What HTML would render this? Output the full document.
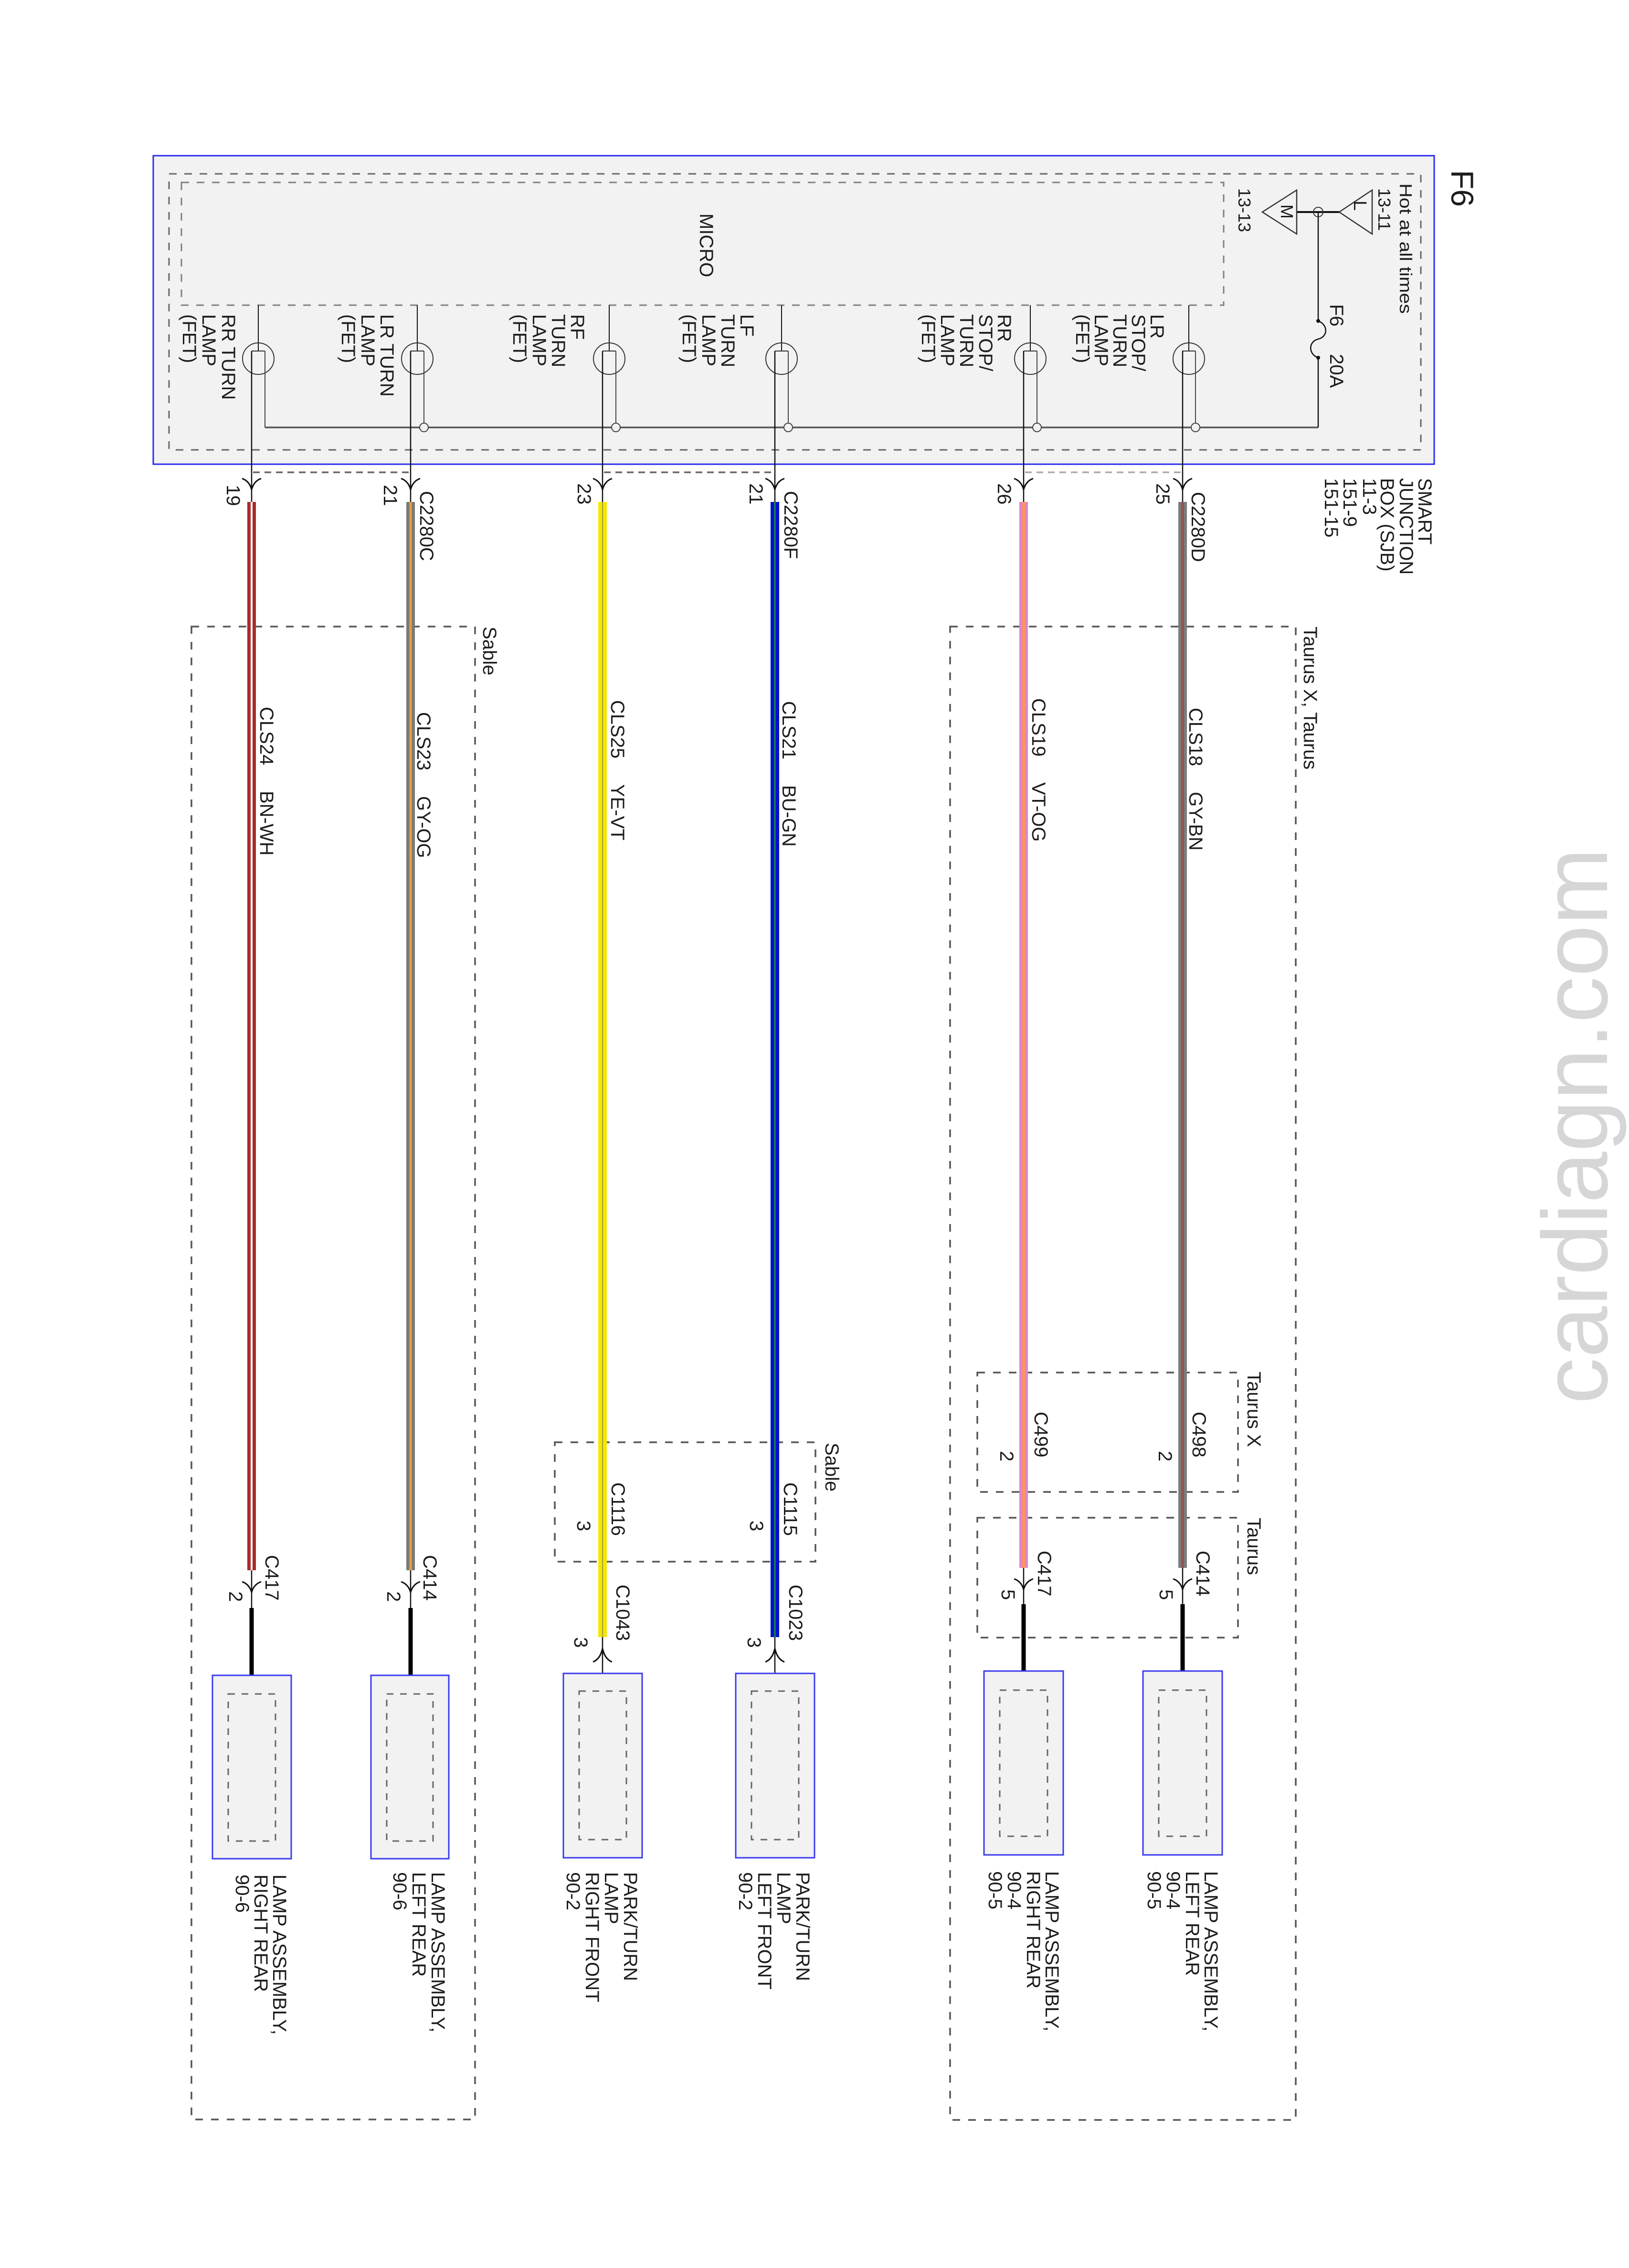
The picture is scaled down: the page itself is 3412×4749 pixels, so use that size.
<!DOCTYPE html>
<html>
<head>
<meta charset="utf-8">
<style>
html,body{margin:0;padding:0;background:#fff;}
svg{display:block;}
text{font-family:"Liberation Sans",Arial,sans-serif;font-size:40px;fill:#1c1c1c;}
.s36{font-size:36px;}
</style>
</head>
<body>
<svg width="3412" height="4749" viewBox="0 0 3412 4749" xmlns="http://www.w3.org/2000/svg">
<rect x="0" y="0" width="3412" height="4749" fill="#fff"/>

<!-- watermark -->
<text x="3366" y="2940" transform="rotate(-90 3366 2940)" style="font-size:194px;fill:#d6d6d6">cardiagn.com</text>

<!-- SJB box -->
<rect x="321" y="326" width="2683" height="646" fill="#f2f2f2" stroke="#2a2aee" stroke-width="3"/>
<rect x="354" y="364" width="2622" height="578" fill="none" stroke="#666" stroke-width="3" stroke-dasharray="16 16"/>
<rect x="380" y="382" width="2183" height="257" fill="none" stroke="#808080" stroke-width="3" stroke-dasharray="16 16"/>

<!-- bus -->
<line x1="555" y1="895" x2="2761" y2="895" stroke="#555" stroke-width="3.5"/>
<!-- fuse feed -->
<line x1="2761" y1="444" x2="2761" y2="672" stroke="#111" stroke-width="2.5"/>
<path d="M2761 672 C2782 680 2782 705 2761 710 C2740 715 2740 742 2761 749" fill="none" stroke="#111" stroke-width="2.5"/>
<line x1="2761" y1="749" x2="2761" y2="895" stroke="#111" stroke-width="2.5"/>
<circle cx="2761" cy="672" r="4" fill="#111"/>
<circle cx="2761" cy="749" r="4" fill="#111"/>
<line x1="2716" y1="444" x2="2805" y2="444" stroke="#111" stroke-width="4"/>
<circle cx="2761" cy="444" r="10" fill="none" stroke="#333" stroke-width="2"/>
<polygon points="2805,444 2874,398 2874,490" fill="none" stroke="#333" stroke-width="2.5"/>
<polygon points="2644,444 2716,398 2716,490" fill="none" stroke="#333" stroke-width="2.5"/>

<!-- FETs -->
<g stroke-linecap="butt">
<line x1="541" y1="639" x2="541" y2="735" stroke="#111" stroke-width="2"/>
<line x1="527" y1="735" x2="555" y2="735" stroke="#333" stroke-width="2"/>
<circle cx="541" cy="751" r="33" fill="none" stroke="#333" stroke-width="2"/>
<line x1="527" y1="735" x2="527" y2="1051" stroke="#111" stroke-width="2.5"/>
<line x1="555" y1="735" x2="555" y2="895" stroke="#444" stroke-width="2"/>

<line x1="874" y1="639" x2="874" y2="735" stroke="#111" stroke-width="2"/>
<line x1="860" y1="735" x2="888" y2="735" stroke="#333" stroke-width="2"/>
<circle cx="874" cy="751" r="33" fill="none" stroke="#333" stroke-width="2"/>
<line x1="860" y1="735" x2="860" y2="1051" stroke="#111" stroke-width="2.5"/>
<line x1="888" y1="735" x2="888" y2="895" stroke="#444" stroke-width="2"/>
<circle cx="888" cy="895" r="9" fill="#f2f2f2" stroke="#444" stroke-width="2"/>

<line x1="1276" y1="639" x2="1276" y2="735" stroke="#111" stroke-width="2"/>
<line x1="1262" y1="735" x2="1290" y2="735" stroke="#333" stroke-width="2"/>
<circle cx="1276" cy="751" r="33" fill="none" stroke="#333" stroke-width="2"/>
<line x1="1262" y1="735" x2="1262" y2="1051" stroke="#111" stroke-width="2.5"/>
<line x1="1290" y1="735" x2="1290" y2="895" stroke="#444" stroke-width="2"/>
<circle cx="1290" cy="895" r="9" fill="#f2f2f2" stroke="#444" stroke-width="2"/>

<line x1="1637" y1="639" x2="1637" y2="735" stroke="#111" stroke-width="2"/>
<line x1="1623" y1="735" x2="1651" y2="735" stroke="#333" stroke-width="2"/>
<circle cx="1637" cy="751" r="33" fill="none" stroke="#333" stroke-width="2"/>
<line x1="1623" y1="735" x2="1623" y2="1051" stroke="#111" stroke-width="2.5"/>
<line x1="1651" y1="735" x2="1651" y2="895" stroke="#444" stroke-width="2"/>
<circle cx="1651" cy="895" r="9" fill="#f2f2f2" stroke="#444" stroke-width="2"/>

<line x1="2158" y1="639" x2="2158" y2="735" stroke="#111" stroke-width="2"/>
<line x1="2144" y1="735" x2="2172" y2="735" stroke="#333" stroke-width="2"/>
<circle cx="2158" cy="751" r="33" fill="none" stroke="#333" stroke-width="2"/>
<line x1="2144" y1="735" x2="2144" y2="1051" stroke="#111" stroke-width="2.5"/>
<line x1="2172" y1="735" x2="2172" y2="895" stroke="#444" stroke-width="2"/>
<circle cx="2172" cy="895" r="9" fill="#f2f2f2" stroke="#444" stroke-width="2"/>

<line x1="2490" y1="639" x2="2490" y2="735" stroke="#111" stroke-width="2"/>
<line x1="2476" y1="735" x2="2504" y2="735" stroke="#333" stroke-width="2"/>
<circle cx="2490" cy="751" r="33" fill="none" stroke="#333" stroke-width="2"/>
<line x1="2477" y1="735" x2="2477" y2="1051" stroke="#111" stroke-width="2.5"/>
<line x1="2504" y1="735" x2="2504" y2="895" stroke="#444" stroke-width="2"/>
<circle cx="2504" cy="895" r="9" fill="#f2f2f2" stroke="#444" stroke-width="2"/>
</g>

<!-- connector dashed links -->
<line x1="530" y1="989" x2="857" y2="989" stroke="#666" stroke-width="3.5" stroke-dasharray="14 10"/>
<line x1="1265" y1="989" x2="1620" y2="989" stroke="#666" stroke-width="3.5" stroke-dasharray="14 10"/>
<line x1="2147" y1="989" x2="2474" y2="989" stroke="#aaa" stroke-width="3.5" stroke-dasharray="14 10"/>

<!-- top arrows -->
<g fill="none" stroke="#111" stroke-width="3">
<path d="M507 1002 Q522 1007 527 1025 Q532 1007 547 1002"/>
<path d="M840 1002 Q855 1007 860 1025 Q865 1007 880 1002"/>
<path d="M1242 1002 Q1257 1007 1262 1025 Q1267 1007 1282 1002"/>
<path d="M1603 1002 Q1618 1007 1623 1025 Q1628 1007 1643 1002"/>
<path d="M2124 1002 Q2139 1007 2144 1025 Q2149 1007 2164 1002"/>
<path d="M2457 1002 Q2472 1007 2477 1025 Q2482 1007 2497 1002"/>
</g>

<!-- big dashed boxes -->
<g fill="none" stroke="#555" stroke-width="3.5" stroke-dasharray="16 17">
<rect x="401" y="1312" width="594" height="3126"/>
<rect x="1990" y="1312" width="724" height="3127"/>
<rect x="2047" y="2874" width="546" height="250"/>
<rect x="2047" y="3178" width="546" height="251"/>
<rect x="1162" y="3020" width="546" height="250"/>
</g>

<!-- colored wires -->
<rect x="518" y="1051" width="18" height="2237" fill="#a82c2c"/>
<rect x="525" y="1051" width="4" height="2237" fill="#ffffff"/>
<rect x="851" y="1051" width="18" height="2237" fill="#7a7a7a"/>
<rect x="857.5" y="1051" width="5" height="2237" fill="#e8a040"/>
<rect x="1253" y="1051" width="18" height="2377" fill="#f4e800"/>
<rect x="1261" y="1051" width="2" height="2377" fill="#9a9a40"/>
<rect x="1614" y="1051" width="18" height="2377" fill="#0012cc"/>
<rect x="1621.5" y="1051" width="3" height="2377" fill="#1f8f3a"/>
<rect x="2135" y="1051" width="18" height="2232" fill="#e57fd8"/>
<rect x="2141" y="1051" width="6" height="2232" fill="#f59a50"/>
<rect x="2468" y="1051" width="18" height="2232" fill="#7c7c7c"/>
<rect x="2474" y="1051" width="6" height="2232" fill="#9a5050"/>

<!-- lower thin / thick wires -->
<g stroke="#111" stroke-width="2.5">
<line x1="527" y1="3288" x2="527" y2="3367"/>
<line x1="860" y1="3288" x2="860" y2="3367"/>
<line x1="2144" y1="3283" x2="2144" y2="3359"/>
<line x1="2477" y1="3283" x2="2477" y2="3359"/>
<line x1="1262" y1="3428" x2="1262" y2="3541"/>
<line x1="1623" y1="3428" x2="1623" y2="3541"/>
<line x1="527" y1="3508" x2="527" y2="3547"/>
<line x1="860" y1="3508" x2="860" y2="3547"/>
<line x1="2144" y1="3499" x2="2144" y2="3539"/>
<line x1="2477" y1="3499" x2="2477" y2="3539"/>
</g>
<g stroke="#000" stroke-width="9">
<line x1="527" y1="3367" x2="527" y2="3508"/>
<line x1="860" y1="3367" x2="860" y2="3508"/>
<line x1="2144" y1="3359" x2="2144" y2="3499"/>
<line x1="2477" y1="3359" x2="2477" y2="3499"/>
</g>
<g fill="none" stroke="#111" stroke-width="3">
<path d="M507 3312 Q522 3317 527 3334 Q532 3317 547 3312"/>
<path d="M840 3312 Q855 3317 860 3334 Q865 3317 880 3312"/>
<path d="M2124 3306 Q2139 3311 2144 3328 Q2149 3311 2164 3306"/>
<path d="M2457 3306 Q2472 3311 2477 3328 Q2482 3311 2497 3306"/>
<path d="M1242 3480 Q1257 3474 1262 3452 Q1267 3474 1282 3480"/>
<path d="M1603 3480 Q1618 3474 1623 3452 Q1628 3474 1643 3480"/>
</g>

<!-- lamp boxes -->
<g fill="#f2f2f2" stroke="#3a3af0" stroke-width="3">
<rect x="445" y="3508" width="165" height="384"/>
<rect x="777" y="3508" width="163" height="384"/>
<rect x="1180" y="3504" width="165" height="386"/>
<rect x="1541" y="3504" width="165" height="386"/>
<rect x="2061" y="3499" width="166" height="385"/>
<rect x="2394" y="3499" width="166" height="385"/>
</g>
<g fill="none" stroke="#666" stroke-width="3" stroke-dasharray="14 14">
<rect x="478" y="3547" width="99" height="308"/>
<rect x="810" y="3547" width="97" height="308"/>
<rect x="1213" y="3541" width="99" height="311"/>
<rect x="1574" y="3541" width="99" height="311"/>
<rect x="2094" y="3539" width="100" height="306"/>
<rect x="2427" y="3539" width="100" height="306"/>
</g>

<!-- SJB texts -->
<text x="3040" y="356" transform="rotate(90 3040 356)" style="font-size:66px">F6</text>
<text class="s36" x="2932" y="384" transform="rotate(90 2932 384)" textLength="273" lengthAdjust="spacingAndGlyphs">Hot at all times</text>
<text class="s36" x="2887" y="394" transform="rotate(90 2887 394)">13-11</text>
<text class="s36" x="2594" y="394" transform="rotate(90 2594 394)">13-13</text>
<text style="font-size:38px" x="2836" y="420" transform="rotate(90 2836 420)">L</text>
<text class="s36" x="2683" y="428" transform="rotate(90 2683 428)">M</text>
<text x="2786" y="637" transform="rotate(90 2786 637)">F6</text>
<text x="2786" y="741" transform="rotate(90 2786 741)">20A</text>
<text x="1466" y="447" transform="rotate(90 1466 447)">MICRO</text>

<!-- FET labels -->
<text x="465" y="658" transform="rotate(90 465 658)">RR TURN</text>
<text x="424" y="658" transform="rotate(90 424 658)">LAMP</text>
<text x="383" y="658" transform="rotate(90 383 658)">(FET)</text>
<text x="797" y="658" transform="rotate(90 797 658)">LR TURN</text>
<text x="757" y="658" transform="rotate(90 757 658)">LAMP</text>
<text x="716" y="658" transform="rotate(90 716 658)">(FET)</text>
<text x="1196" y="658" transform="rotate(90 1196 658)">RF</text>
<text x="1156" y="658" transform="rotate(90 1156 658)">TURN</text>
<text x="1116" y="658" transform="rotate(90 1116 658)">LAMP</text>
<text x="1075" y="658" transform="rotate(90 1075 658)">(FET)</text>
<text x="1551" y="658" transform="rotate(90 1551 658)">LF</text>
<text x="1511" y="658" transform="rotate(90 1511 658)">TURN</text>
<text x="1471" y="658" transform="rotate(90 1471 658)">LAMP</text>
<text x="1430" y="658" transform="rotate(90 1430 658)">(FET)</text>
<text x="2090" y="658" transform="rotate(90 2090 658)">RR</text>
<text x="2051" y="658" transform="rotate(90 2051 658)">STOP/</text>
<text x="2011" y="658" transform="rotate(90 2011 658)">TURN</text>
<text x="1971" y="658" transform="rotate(90 1971 658)">LAMP</text>
<text x="1931" y="658" transform="rotate(90 1931 658)">(FET)</text>
<text x="2410" y="658" transform="rotate(90 2410 658)">LR</text>
<text x="2371" y="658" transform="rotate(90 2371 658)">STOP/</text>
<text x="2332" y="658" transform="rotate(90 2332 658)">TURN</text>
<text x="2293" y="658" transform="rotate(90 2293 658)">LAMP</text>
<text x="2254" y="658" transform="rotate(90 2254 658)">(FET)</text>

<!-- SJB label -->
<text x="2971" y="1001" transform="rotate(90 2971 1001)">SMART</text>
<text x="2932" y="1001" transform="rotate(90 2932 1001)">JUNCTION</text>
<text x="2892" y="1001" transform="rotate(90 2892 1001)">BOX (SJB)</text>
<text x="2855" y="1001" transform="rotate(90 2855 1001)">11-3</text>
<text x="2814" y="1001" transform="rotate(90 2814 1001)">151-9</text>
<text x="2775" y="1001" transform="rotate(90 2775 1001)">151-15</text>

<!-- connectors top -->
<text x="880" y="1028" transform="rotate(90 880 1028)">C2280C</text>
<text x="1643" y="1028" transform="rotate(90 1643 1028)">C2280F</text>
<text x="2496" y="1030" transform="rotate(90 2496 1030)">C2280D</text>
<text x="475" y="1015" transform="rotate(90 475 1015)">19</text>
<text x="804" y="1015" transform="rotate(90 804 1015)">21</text>
<text x="1210" y="1012" transform="rotate(90 1210 1012)">23</text>
<text x="1570" y="1012" transform="rotate(90 1570 1012)">21</text>
<text x="2090" y="1012" transform="rotate(90 2090 1012)">26</text>
<text x="2422" y="1012" transform="rotate(90 2422 1012)">25</text>

<!-- box labels -->
<text x="1012" y="1312" transform="rotate(90 1012 1312)">Sable</text>
<text x="2731" y="1312" transform="rotate(90 2731 1312)">Taurus X, Taurus</text>
<text x="2613" y="2872" transform="rotate(90 2613 2872)">Taurus X</text>
<text x="2613" y="3178" transform="rotate(90 2613 3178)">Taurus</text>
<text x="1729" y="3021" transform="rotate(90 1729 3021)">Sable</text>

<!-- circuit labels -->
<text x="545" y="1480" transform="rotate(90 545 1480)">CLS24</text>
<text x="545" y="1656" transform="rotate(90 545 1656)">BN-WH</text>
<text x="874" y="1491" transform="rotate(90 874 1491)">CLS23</text>
<text x="874" y="1667" transform="rotate(90 874 1667)">GY-OG</text>
<text x="1280" y="1466" transform="rotate(90 1280 1466)">CLS25</text>
<text x="1280" y="1642" transform="rotate(90 1280 1642)">YE-VT</text>
<text x="1639" y="1468" transform="rotate(90 1639 1468)">CLS21</text>
<text x="1639" y="1644" transform="rotate(90 1639 1644)">BU-GN</text>
<text x="2162" y="1462" transform="rotate(90 2162 1462)">CLS19</text>
<text x="2162" y="1638" transform="rotate(90 2162 1638)">VT-OG</text>
<text x="2491" y="1482" transform="rotate(90 2491 1482)">CLS18</text>
<text x="2491" y="1658" transform="rotate(90 2491 1658)">GY-BN</text>

<!-- lower connectors -->
<text x="556" y="3256" transform="rotate(90 556 3256)">C417</text>
<text x="480" y="3332" transform="rotate(90 480 3332)">2</text>
<text x="887" y="3256" transform="rotate(90 887 3256)">C414</text>
<text x="811" y="3332" transform="rotate(90 811 3332)">2</text>
<text x="2167" y="2956" transform="rotate(90 2167 2956)">C499</text>
<text x="2095" y="3038" transform="rotate(90 2095 3038)">2</text>
<text x="2498" y="2956" transform="rotate(90 2498 2956)">C498</text>
<text x="2427" y="3038" transform="rotate(90 2427 3038)">2</text>
<text x="2174" y="3247" transform="rotate(90 2174 3247)">C417</text>
<text x="2098" y="3328" transform="rotate(90 2098 3328)">5</text>
<text x="2506" y="3247" transform="rotate(90 2506 3247)">C414</text>
<text x="2429" y="3328" transform="rotate(90 2429 3328)">5</text>
<text x="1281" y="3104" transform="rotate(90 1281 3104)">C1116</text>
<text x="1209" y="3184" transform="rotate(90 1209 3184)">3</text>
<text x="1642" y="3104" transform="rotate(90 1642 3104)">C1115</text>
<text x="1571" y="3184" transform="rotate(90 1571 3184)">3</text>
<text x="1291" y="3318" transform="rotate(90 1291 3318)">C1043</text>
<text x="1203" y="3428" transform="rotate(90 1203 3428)">3</text>
<text x="1653" y="3318" transform="rotate(90 1653 3318)">C1023</text>
<text x="1566" y="3428" transform="rotate(90 1566 3428)">3</text>

<!-- lamp labels -->
<text x="572" y="3925" transform="rotate(90 572 3925)">LAMP ASSEMBLY,</text>
<text x="533" y="3925" transform="rotate(90 533 3925)">RIGHT REAR</text>
<text x="494" y="3925" transform="rotate(90 494 3925)">90-6</text>
<text x="904" y="3920" transform="rotate(90 904 3920)">LAMP ASSEMBLY,</text>
<text x="864" y="3920" transform="rotate(90 864 3920)">LEFT REAR</text>
<text x="824" y="3920" transform="rotate(90 824 3920)">90-6</text>
<text x="1307" y="3920" transform="rotate(90 1307 3920)">PARK/TURN</text>
<text x="1267" y="3920" transform="rotate(90 1267 3920)">LAMP</text>
<text x="1227" y="3920" transform="rotate(90 1227 3920)">RIGHT FRONT</text>
<text x="1187" y="3920" transform="rotate(90 1187 3920)">90-2</text>
<text x="1668" y="3920" transform="rotate(90 1668 3920)">PARK/TURN</text>
<text x="1628" y="3920" transform="rotate(90 1628 3920)">LAMP</text>
<text x="1588" y="3920" transform="rotate(90 1588 3920)">LEFT FRONT</text>
<text x="1548" y="3920" transform="rotate(90 1548 3920)">90-2</text>
<text x="2190" y="3918" transform="rotate(90 2190 3918)">LAMP ASSEMBLY,</text>
<text x="2151" y="3918" transform="rotate(90 2151 3918)">RIGHT REAR</text>
<text x="2111" y="3918" transform="rotate(90 2111 3918)">90-4</text>
<text x="2071" y="3918" transform="rotate(90 2071 3918)">90-5</text>
<text x="2523" y="3918" transform="rotate(90 2523 3918)">LAMP ASSEMBLY,</text>
<text x="2484" y="3918" transform="rotate(90 2484 3918)">LEFT REAR</text>
<text x="2444" y="3918" transform="rotate(90 2444 3918)">90-4</text>
<text x="2404" y="3918" transform="rotate(90 2404 3918)">90-5</text>
</svg>
</body>
</html>
